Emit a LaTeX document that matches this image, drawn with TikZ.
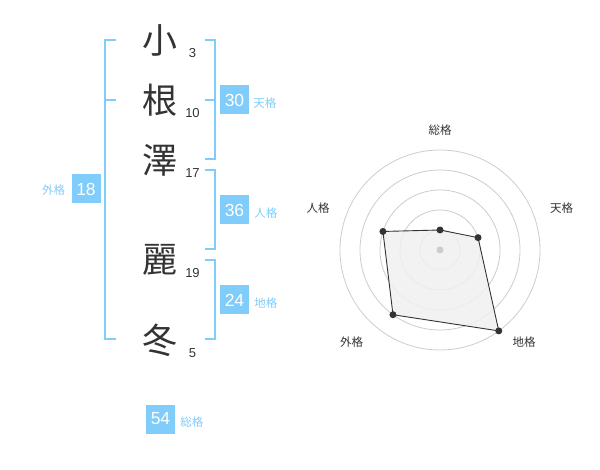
\documentclass[tikz,border=0pt]{standalone}
\usepackage{fontspec}
\setmainfont{Liberation Sans}
\newfontfamily\cjk{Noto Sans CJK JP}
\definecolor{skyb}{RGB}{128,204,250}
\definecolor{ink}{RGB}{51,51,51}
\definecolor{ring}{RGB}{204,204,204}
\definecolor{polyfill}{RGB}{240,240,240}
\begin{document}
\begin{tikzpicture}[x=1pt,y=-1pt,
  kanji/.style={inner sep=0pt,text=ink,font=\cjk\fontsize{35}{35}\selectfont},
  strk/.style={inner sep=0pt,text=ink,font=\fontsize{13}{13}\selectfont},
  numbox/.style={fill=skyb,text=white,minimum width=29pt,minimum height=29pt,inner sep=0pt,font=\fontsize{17.5}{17.5}\selectfont},
  lbl/.style={inner sep=0pt,text=skyb,font=\cjk\fontsize{11.5}{11.5}\selectfont},
  brk/.style={draw=skyb,line width=2pt},
  rlbl/.style={inner sep=0pt,text=ink,font=\cjk\fontsize{11.5}{11.5}\selectfont},
  ringc/.style={draw=ring,line width=0.8pt},
  dot/.style={circle,fill=ink,inner sep=0pt,minimum size=7pt}
]
\useasboundingbox (0,0) rectangle (600,470);
% characters
\node[kanji] (c1) at (160,40) {小};
\node[kanji] (c2) at (160,100) {根};
\node[kanji] (c3) at (160,160) {澤};
\node[kanji] (c4) at (160,260) {麗};
\node[kanji] (c5) at (160,340) {冬};
\node[strk] (s1) at (192.5,52.7) {3};
\node[strk] (s2) at (192.5,112.7) {10};
\node[strk] (s3) at (192.5,172.7) {17};
\node[strk] (s4) at (192.5,272.7) {19};
\node[strk] (s5) at (192.5,353) {5};
% brackets
\draw[brk] (205,40) -- (214.5,40) -- (214.5,159.5) -- (205,159.5);
\draw[brk] (205,100) -- (214.5,100);
\draw[brk] (205,170) -- (214.5,170) -- (214.5,249.5) -- (205,249.5);
\draw[brk] (205,260) -- (214.5,260) -- (214.5,339.5) -- (205,339.5);
\draw[brk] (116,40) -- (105,40) -- (105,339.5) -- (116,339.5);
\draw[brk] (105,100) -- (116,100);
% boxes
\node[numbox] (b30) at (234.5,100) {30};
\node[numbox] (b36) at (234.5,210) {36};
\node[numbox] (b24) at (234.5,300) {24};
\node[numbox] (b18) at (86,189) {18};
\node[numbox] (b54) at (160.5,419) {54};
\node[lbl,anchor=west] (l30) at ([xshift=4pt,yshift=-3pt]b30.east) {天格};
\node[lbl,anchor=west] (l36) at ([xshift=5pt,yshift=-3pt]b36.east) {人格};
\node[lbl,anchor=west] (l24) at ([xshift=5pt,yshift=-3pt]b24.east) {地格};
\node[lbl,anchor=west] (l54) at ([xshift=5pt,yshift=-3pt]b54.east) {総格};
\node[lbl,anchor=east] (l18) at ([xshift=-6pt,yshift=-1pt]b18.west) {外格};
% radar
\coordinate (ctr) at (440,250);
\foreach \r in {20,40,60,80,100} \draw[ringc] (ctr) circle[radius=\r];
\coordinate (p1) at (440,230);
\coordinate (p2) at (478.04,237.64);
\coordinate (p3) at (498.78,330.90);
\coordinate (p4) at (392.98,314.72);
\coordinate (p5) at (382.94,231.46);
\draw[ink,fill=polyfill,fill opacity=0.85,line width=0.9pt] (p1) -- (p2) -- (p3) -- (p4) -- (p5) -- cycle;
\node[circle,fill=ring,inner sep=0pt,minimum size=7pt] (cd) at (ctr) {};
\foreach \p in {p1,p2,p3,p4,p5} \node[dot] at (\p) {};
\node[rlbl] (r1) at (440,130) {総格};
\node[rlbl] (r2) at (561.7,208) {天格};
\node[rlbl] (r3) at (524,342) {地格};
\node[rlbl] (r4) at (351.7,342) {外格};
\node[rlbl] (r5) at (318,208) {人格};
\end{tikzpicture}
\end{document}
